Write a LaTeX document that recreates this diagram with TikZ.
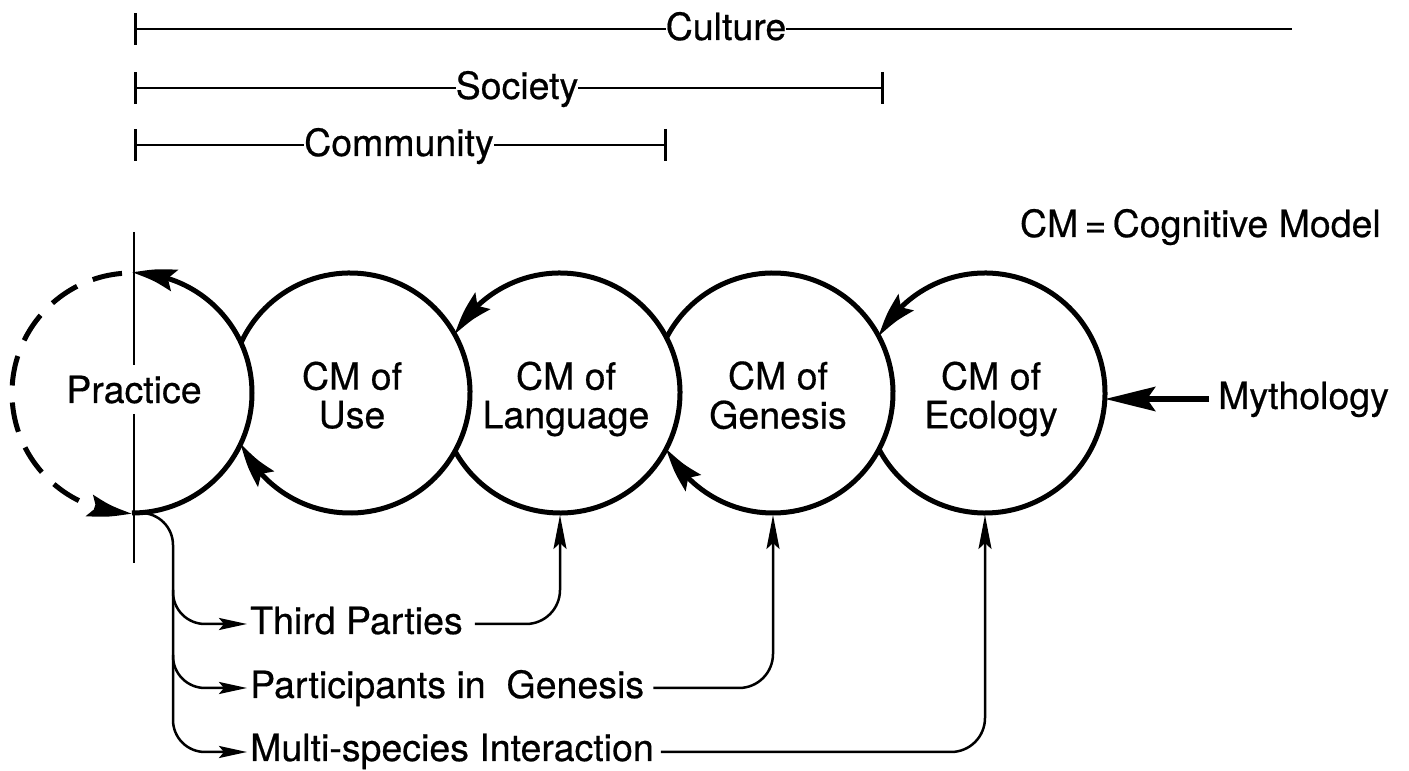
\documentclass[tikz,border=0pt]{standalone}
\usepackage{fontspec}
\setmainfont{TeX Gyre Heros}[UprightFeatures={FakeBold=0.5}]
\usetikzlibrary{arrows.meta,bending,calc}
\begin{document}
\begin{tikzpicture}[x=1pt,y=1pt,
  txt/.style={font=\fontsize{37.5}{34}\selectfont, inner sep=0pt},
  ring/.style={circle, minimum size=240pt, inner sep=0pt, outer sep=0pt, draw=none},
  rim/.style={line width=5pt},
  rimtip/.style={-{Stealth[length=44pt,width=22pt,inset=7pt,bend]}},
  bar/.style={line width=2.8pt},
  vline/.style={line width=1.5pt},
  conn/.style={line width=2.5pt, -{Stealth[length=28pt,width=12pt,inset=5pt]}},
  upconn/.style={line width=2.5pt, -{Stealth[length=34pt,width=13pt,inset=6pt]}},
  bigarrow/.style={line width=6.5pt, -{Stealth[length=50pt,width=24pt,inset=8pt]}}
]
\useasboundingbox (0,0) rectangle (1409,771);

% ---- range bars ----
\coordinate (cuL) at (134,742); \coordinate (cuR) at (1292,742);
\coordinate (soL) at (134,683); \coordinate (soR) at (884,683);
\coordinate (coL) at (134,626); \coordinate (coR) at (667,626);
\node[txt, anchor=base] (cu) at (726,731) {Culture};
\node[txt, anchor=base] (so) at (517,672) {Society};
\node[txt, anchor=base] (co) at (399,615) {Community};
\draw[bar, {Bar[width=32pt]}-] (cuL) -- (cu.west |- cuL);
\draw[bar] (cu.east |- cuL) -- (cuR);
\draw[bar, {Bar[width=32pt]}-] (soL) -- (so.west |- soL);
\draw[bar, -{Bar[width=32pt]}] (so.east |- soL) -- (soR);
\draw[bar, {Bar[width=32pt]}-] (coL) -- (co.west |- coL);
\draw[bar, -{Bar[width=32pt]}] (co.east |- coL) -- (coR);

% ---- key ----
\node[txt, anchor=base east] (key) at (1381,534) {CM\,=\,Cognitive Model};

% ---- circles ----
\node[ring] (pc) at (132,378) {};
\node[ring] (uc) at (350,378) {};
\node[ring] (lc) at (560,378) {};
\node[ring] (gc) at (773,378) {};
\node[ring] (ec) at (985,378) {};

\draw[rim, rimtip] (pc.south) arc[start angle=-90, end angle=90, radius=120];
\draw[rim, dash pattern=on 30pt off 17pt, dash phase=37pt, rimtip] (pc.north) arc[start angle=90, end angle=270, radius=120];
\draw[rim, rimtip] ($(uc.center)+(155.27:120)$) arc[start angle=155.27, end angle=-155.27, radius=120];
\draw[rim, rimtip] ($(lc.center)+(-151.04:120)$) arc[start angle=-151.04, end angle=151.04, radius=120];
\draw[rim, rimtip] ($(gc.center)+(152.56:120)$) arc[start angle=152.56, end angle=-152.56, radius=120];
\draw[rim, rimtip] ($(ec.center)+(-152.06:120)$) arc[start angle=-152.06, end angle=152.06, radius=120];

% ---- circle labels ----
\node[txt, anchor=base, inner ysep=10pt] (pt) at (134,368) {Practice};
\node[txt, align=center] (ut) at (352,371) {CM of\strut\\Use\strut};
\node[txt, align=center] (lt) at (566,371) {CM of\strut\\Language\strut};
\node[txt, align=center] (gt) at (778,371) {CM of\strut\\Genesis\strut};
\node[txt, align=center] (et) at (991,371) {CM of\strut\\Ecology\strut};

% ---- vertical divider ----
\coordinate (vt) at (134,539); \coordinate (vb) at (134,208);
\draw[vline] (vt) -- (pt.north);
\draw[vline] (pt.south) -- (vb);

% ---- mythology ----
\node[txt, anchor=base west] (my) at (1218,362) {Mythology};
\coordinate (myT) at (1209,372);
\draw[bigarrow] (myT) -- (ec.east |- myT);

% ---- bottom texts ----
\node[txt, anchor=base west] (tp) at (250,137) {Third Parties};
\node[txt, anchor=base west] (pg) at (250,73) {Participants in\ \ Genesis};
\node[txt, anchor=base west] (ms) at (250,10) {Multi-species Interaction};

\coordinate (tk1) at (173,181);
\coordinate (tk2) at (173,116);
\coordinate (tkb) at (173,19);

\draw[conn, rounded corners=32pt, shorten >=3pt] (pc.south) -| (tkb) -- ($(ms.base west)+(0,9)$);
\draw[conn, rounded corners=32pt, shorten >=3pt] (tk1) |- ($(tp.base west)+(0,10)$);
\draw[conn, rounded corners=32pt, shorten >=3pt] (tk2) |- ($(pg.base west)+(0,10)$);

\draw[upconn, rounded corners=34pt, shorten >=2pt] ($(tp.base east)+(12,10)$) -| (lc.south);
\draw[upconn, rounded corners=34pt, shorten >=2pt] ($(pg.base east)+(9,10)$) -| (gc.south);
\draw[upconn, rounded corners=34pt, shorten >=2pt] ($(ms.base east)+(7,9)$) -| (ec.south);
\end{tikzpicture}
\end{document}
